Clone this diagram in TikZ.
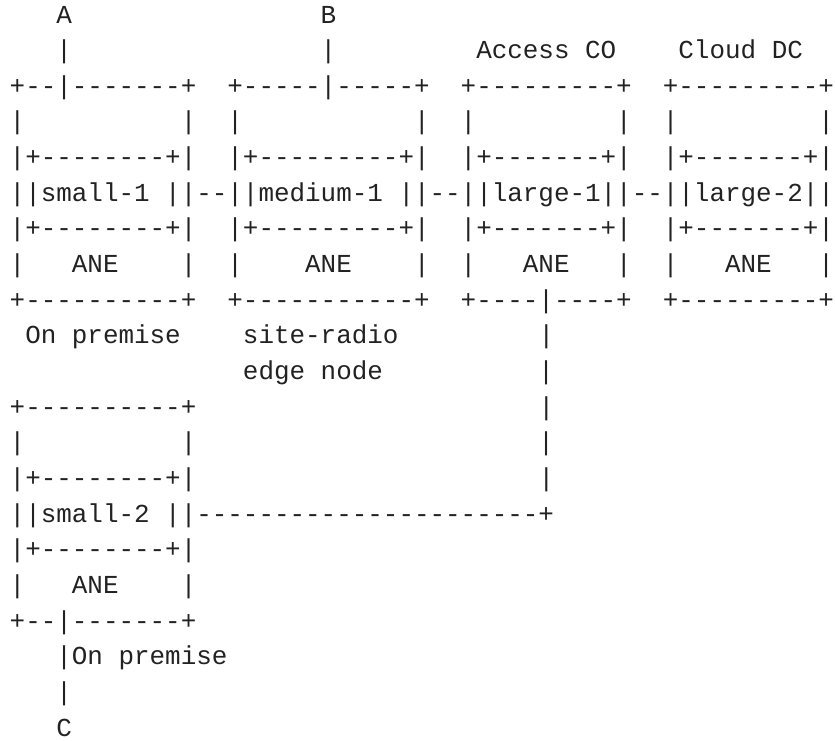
\documentclass[tikz,border=0pt]{standalone}
\usepackage{fontspec}
\setmonofont{Liberation Mono}
\definecolor{ink}{HTML}{222222}
\newcommand\gap[1]{\hskip\dimexpr 0.6em*#1\relax}
\tikzset{asc/.style={anchor=base west, inner sep=0pt, outer sep=0pt, text=ink,
  font=\ttfamily\fontsize{25.92}{35.65}\selectfont}}
\begin{document}
\begin{tikzpicture}[x=1pt,y=-1pt]
\useasboundingbox[fill=white] (0,0) rectangle (835,740);
\node[asc] (r0)  at ({9.7+15.55*3},{23+35.65*0})  {A\gap{16}B};
\node[asc] (r1)  at ({9.7+15.55*3},{23+35.65*1})  {|\gap{16}|\gap{9}Access\gap{1}CO\gap{4}Cloud\gap{1}DC};
\node[asc] (r2)  at ({9.7},{23+35.65*2})  {+--|-------+\gap{2}+-----|-----+\gap{2}+---------+\gap{2}+---------+};
\node[asc] (r3)  at ({9.7},{23+35.65*3})  {|\gap{10}|\gap{2}|\gap{11}|\gap{2}|\gap{9}|\gap{2}|\gap{9}|};
\node[asc] (r4)  at ({9.7},{23+35.65*4})  {|+--------+|\gap{2}|+---------+|\gap{2}|+-------+|\gap{2}|+-------+|};
\node[asc] (r5)  at ({9.7},{23+35.65*5})  {||small-1\gap{1}||--||medium-1\gap{1}||--||large-1||--||large-2||};
\node[asc] (r6)  at ({9.7},{23+35.65*6})  {|+--------+|\gap{2}|+---------+|\gap{2}|+-------+|\gap{2}|+-------+|};
\node[asc] (r7)  at ({9.7},{23+35.65*7})  {|\gap{3}ANE\gap{4}|\gap{2}|\gap{4}ANE\gap{4}|\gap{2}|\gap{3}ANE\gap{3}|\gap{2}|\gap{3}ANE\gap{3}|};
\node[asc] (r8)  at ({9.7},{23+35.65*8})  {+----------+\gap{2}+-----------+\gap{2}+----|----+\gap{2}+---------+};
\node[asc] (r9)  at ({9.7+15.55*1},{23+35.65*9})  {On\gap{1}premise\gap{4}site-radio\gap{9}|};
\node[asc] (r10) at ({9.7+15.55*15},{23+35.65*10}) {edge\gap{1}node\gap{10}|};
\node[asc] (r11) at ({9.7},{23+35.65*11}) {+----------+\gap{22}|};
\node[asc] (r12) at ({9.7},{23+35.65*12}) {|\gap{10}|\gap{22}|};
\node[asc] (r13) at ({9.7},{23+35.65*13}) {|+--------+|\gap{22}|};
\node[asc] (r14) at ({9.7},{23+35.65*14}) {||small-2\gap{1}||----------------------+};
\node[asc] (r15) at ({9.7},{23+35.65*15}) {|+--------+|};
\node[asc] (r16) at ({9.7},{23+35.65*16}) {|\gap{3}ANE\gap{4}|};
\node[asc] (r17) at ({9.7},{23+35.65*17}) {+--|-------+};
\node[asc] (r18) at ({9.7+15.55*3},{23+35.65*18}) {|On\gap{1}premise};
\node[asc] (r19) at ({9.7+15.55*3},{23+35.65*19}) {|};
\node[asc] (r20) at ({9.7+15.55*3},{23+35.65*20}) {C};
\end{tikzpicture}
\end{document}
